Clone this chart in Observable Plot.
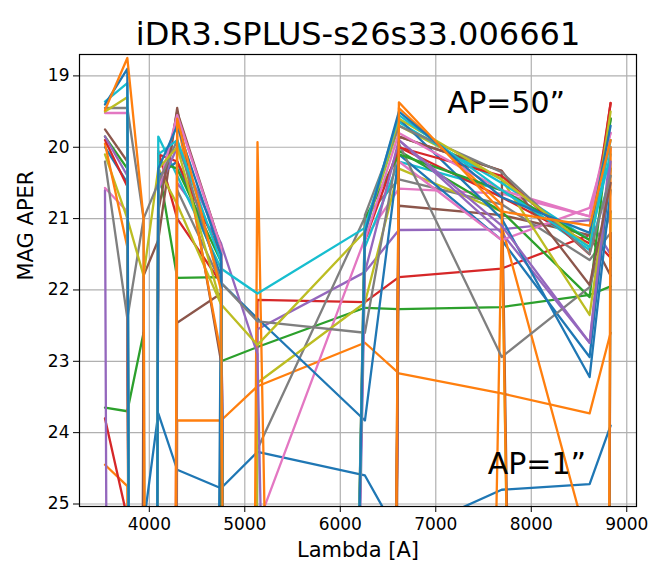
<!DOCTYPE html>
<html>
<head>
<meta charset="utf-8">
<script src="https://cdn.jsdelivr.net/npm/d3@7"></script>
<script src="https://cdn.jsdelivr.net/npm/@observablehq/plot@0.6"></script>
<style>
  html, body { margin: 0; padding: 0; background: #fff; }
  #chart { width: 671px; height: 566px; }
</style>
</head>
<body>
<div id="chart"></div>
<script>
// S-PLUS filter pivot wavelengths (Angstrom)
const filters = ["uJAVA","F378","F395","F410","F430","gSDSS","F515","rSDSS","F660","iSDSS","F861","zSDSS"];
const lambdas = [3536, 3770, 3940, 4094, 4292, 4751, 5133, 6258, 6614, 7690, 8611, 8831];
const xTicks = [4000, 5000, 6000, 7000, 8000, 9000];
const yTicks = [19, 20, 21, 22, 23, 24, 25];

// MAG_APER per aperture (index 0 = AP 1", last = AP 50"); 99 = non-detection
const ap00 = [99, 99, 25.3, 23.73, 24.52, 24.78, 24.27, 24.6, 25.45, 24.8, 24.72, 23.9];
const ap01 = [24.45, 24.75, 99, 99, 23.83, 23.83, 23.35, 22.74, 23.17, 23.45, 23.73, 22.6];
const ap02 = [23.65, 23.7, 22.6, 99, 99, 23.0, 22.8, 22.25, 22.27, 22.24, 22.07, 21.95];
const ap03 = [23.8, 25.2, 99, 99, 99, 99, 22.14, 22.17, 21.82, 21.7, 21.23, 21.55];
const ap04 = [20.6, 99, 99, 99, 99, 99, 22.55, 21.75, 21.16, 21.15, 21.02, 21.5];
const ap05 = [99, 99, 99, 99, 22.46, 22.05, 99, 99, 20.82, 20.95, 21.23, 21.8];
const ap06 = [99, 99, 99, 99, 99, 99, 25.3, 21.28, 20.58, 20.65, 20.97, 19.6];
const ap07 = [99, 99, 99, 99, 99, 99, 24.23, 20.98, 20.45, 20.8, 21.58, 21.2];
const ap08 = [99, 99, 99, 99, 99, 99, 23.3, 22.18, 20.3, 20.9, 99, 20.9];
const ap09 = [99, 99, 99, 99, 99, 99, 99, 21.4, 20.2, 20.6, 21.44, 20.4];
const ap10 = [99, 99, 99, 99, 99, 21.9, 22.4, 23.83, 20.1, 21.3, 22.94, 20.3];
const ap11 = [99, 99, 22.6, 99, 99, 99, 19.93, 99, 99, 21.1, 25.65, 99];
const ap12 = [99, 99, 99, 20.25, 21.83, 21.82, 99, 99, 20.05, 20.9, 22.1, 19.6];
const ap13 = [99, 99, 99, 20.05, 21.0, 21.9, 99, 99, 20.0, 20.7, 21.35, 19.38];
const ap14 = [99, 99, 99, 99, 20.5, 21.35, 22.9, 99, 19.9, 21.2, 22.74, 20.0];
const ap15 = [99, 99, 21.8, 21.3, 19.45, 23.0, 99, 99, 19.85, 20.33, 99, 21.2];
const ap16 = [20.57, 20.9, 99, 99, 19.55, 21.4, 99, 99, 20.2, 21.3, 20.85, 19.8];
const ap17 = [20.2, 22.4, 21.0, 99, 20.6, 21.9, 22.44, 22.6, 19.95, 22.94, 21.96, 20.9];
const ap18 = [20.1, 21.0, 21.8, 20.3, 20.8, 22.2, 22.77, 21.18, 19.7, 20.45, 22.35, 20.3];
const ap19 = [99, 99, 99, 19.85, 20.4, 21.7, 22.05, 21.13, 19.65, 20.5, 21.3, 20.1];
const ap20 = [20.0, 20.5, 99, 20.4, 20.2, 21.8, 99, 99, 19.6, 21.0, 23.22, 20.6];
const ap21 = [19.95, 21.4, 99, 99, 19.6, 22.9, 99, 99, 19.45, 20.8, 99, 20.0];
const ap22 = [19.85, 20.3, 99, 20.2, 20.3, 21.6, 99, 21.0, 20.1, 20.6, 21.3, 19.6];
const ap23 = [19.9, 20.55, 99, 20.1, 20.2, 21.5, 99, 21.3, 20.0, 20.4, 21.5, 19.38];
const ap24 = [19.85, 20.4, 99, 20.6, 20.0, 21.35, 99, 21.75, 19.9, 21.1, 22.74, 20.2];
const ap25 = [19.75, 20.2, 99, 20.9, 19.5, 21.4, 99, 99, 19.85, 20.33, 21.93, 20.5];
const ap26 = [19.52, 19.52, 99, 20.6, 19.55, 21.4, 99, 21.3, 19.8, 20.6, 20.97, 19.8];
const ap27 = [19.45, 19.45, 21.0, 20.5, 19.9, 21.9, 99, 20.95, 19.7, 20.35, 21.5, 20.4];
const ap28 = [19.5, 19.3, 99, 20.3, 20.0, 22.2, 99, 21.18, 19.6, 20.45, 21.4, 19.5];
const ap29 = [19.36, 19.1, 99, 20.1, 19.9, 21.6, 99, 21.13, 19.55, 20.6, 21.4, 19.9];
const ap30 = [19.4, 18.9, 99, 20.3, 19.7, 21.5, 99, 21.2, 19.5, 20.7, 21.2, 19.7];
const ap31 = [19.48, 18.75, 21.0, 99, 19.6, 22.0, 99, 99, 19.37, 20.9, 21.1, 19.9];

const rows = [ap00, ap01, ap02, ap03, ap04, ap05, ap06, ap07, ap08, ap09,
              ap10, ap11, ap12, ap13, ap14, ap15, ap16, ap17, ap18, ap19,
              ap20, ap21, ap22, ap23, ap24, ap25, ap26, ap27, ap28, ap29,
              ap30, ap31];

const tab10 = ["#1f77b4","#ff7f0e","#2ca02c","#d62728","#9467bd","#8c564b","#e377c2","#7f7f7f","#bcbd22","#17becf"];

const data = rows.flatMap((r, k) => r.map((m, i) => ({k, lambda: lambdas[i], mag: m})));

const font = "DejaVu Sans, sans-serif";

const chart = Plot.plot({
  width: 671,
  height: 566,
  marginLeft: 79,
  marginRight: 35,
  marginTop: 54,
  marginBottom: 60,
  style: {fontFamily: font, fontSize: "17px", color: "#000", background: "#fff"},
  x: {domain: [3269, 9102]},
  y: {domain: [18.70, 25.035], reverse: true},
  color: {type: "ordinal", domain: rows.map((_, k) => k), range: rows.map((_, k) => tab10[k % 10])},
  marks: [
    Plot.gridX(xTicks, {stroke: "#b0b0b0", strokeOpacity: 1, strokeWidth: 1.2}),
    Plot.gridY(yTicks, {stroke: "#b0b0b0", strokeOpacity: 1, strokeWidth: 1.2}),
    Plot.line(data, {x: "lambda", y: "mag", z: "k", stroke: "k", strokeWidth: 2.3, clip: true}),
    Plot.axisX({ticks: xTicks, tickSize: 6, tickPadding: 5, tickFormat: d => String(d), label: null, stroke: "#000"}),
    Plot.axisY({ticks: yTicks, tickSize: 6, tickPadding: 4, tickFormat: d => String(d), label: null, stroke: "#000"}),
    Plot.frame({stroke: "#000", strokeWidth: 1.2}),
    Plot.text(["iDR3.SPLUS-s26s33.006661"], {frameAnchor: "top", dy: -20, text: d => d, fontSize: 32, lineAnchor: "middle"}),
    Plot.text(["Lambda [A]"], {frameAnchor: "bottom", dy: 44, text: d => d, fontSize: 21, lineAnchor: "middle"}),
    Plot.text(["MAG APER"], {frameAnchor: "left", dx: -53, rotate: -90, text: d => d, fontSize: 21, lineAnchor: "middle"}),
    Plot.text(["AP=50\u201d"], {x: 7124, y: 19.52, text: d => d, fontSize: 30, textAnchor: "start", lineAnchor: "bottom"}),
    Plot.text(["AP=1\u201d"], {x: 7543, y: 24.58, text: d => d, fontSize: 30, textAnchor: "start", lineAnchor: "bottom"})
  ]
});
document.getElementById("chart").appendChild(chart);
</script>
</body>
</html>
